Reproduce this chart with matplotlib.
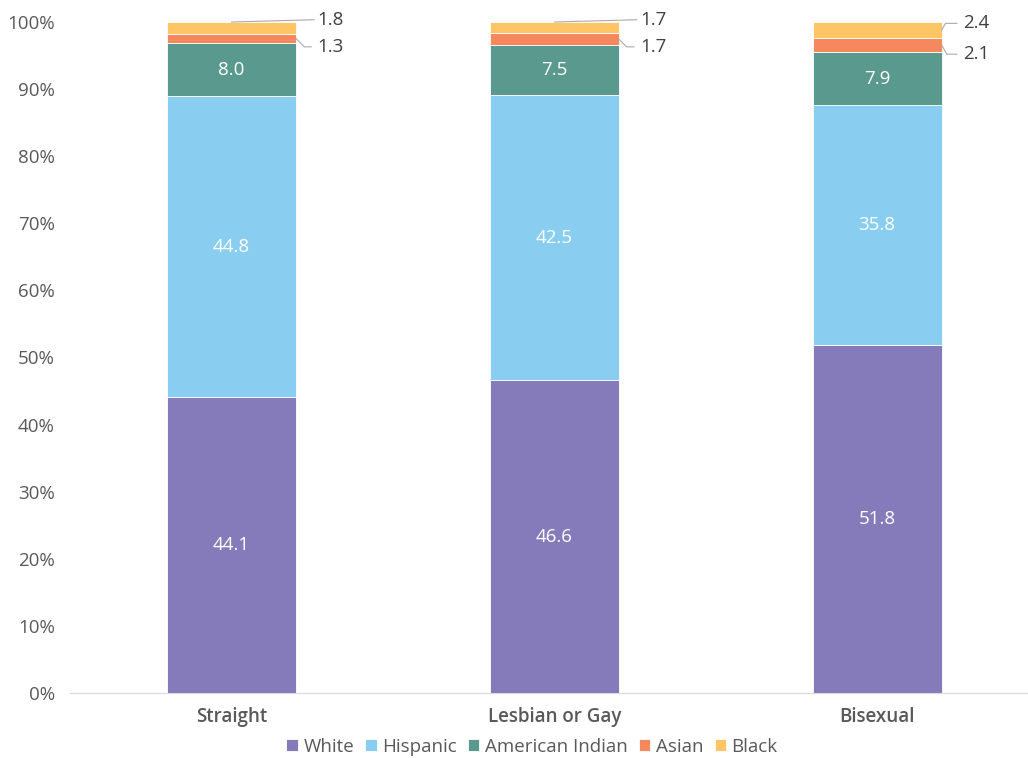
import matplotlib
matplotlib.use("Agg")
import matplotlib.pyplot as plt
import numpy as np

plt.rcParams['font.family'] = ['Open Sans', 'DejaVu Sans']

categories = ['Straight', 'Lesbian or Gay', 'Bisexual']
groups = ['White', 'Hispanic', 'American Indian', 'Asian', 'Black']
white = [44.1, 46.6, 51.8]
hispanic = [44.8, 42.5, 35.8]
american_indian = [8.0, 7.5, 7.9]
asian = [1.3, 1.7, 2.1]
black = [1.8, 1.7, 2.4]
colors = ['#857bba', '#89cef0', '#5a9a8e', '#f5885c', '#fdc566']

series = [white, hispanic, american_indian, asian, black]

fig = plt.figure(figsize=(10.28, 7.58), dpi=100)
ax = fig.add_axes([70 / 1028, 65 / 758, 968.5 / 1028, 671 / 758])

x = np.arange(len(categories))
width = 0.4
bottom = np.zeros(len(categories))
for name, vals, c in zip(groups, series, colors):
    vals = np.array(vals)
    ax.bar(x, vals, width, bottom=bottom, color=c, label=name,
           edgecolor='white', linewidth=0.6)
    # big segments get their value written in the middle
    if name in ('White', 'Hispanic', 'American Indian'):
        for xi, b, v in zip(x, bottom, vals):
            ax.text(xi, b + v / 2, f'{v:.1f}', ha='center', va='center',
                    color='white', fontsize=13.5, fontweight='medium')
    bottom += vals

# small segments labelled to the right with leader lines
line_kw = dict(arrowstyle='-', color='#aaaaaa', lw=0.8)
lab_kw = dict(va='center', ha='left', fontsize=13.5, color='#404040',
              fontweight='medium')
for i in range(len(categories)):
    asian_mid = white[i] + hispanic[i] + american_indian[i] + asian[i] / 2
    black_mid = 100 - black[i] / 2
    tx = i + 0.265
    if i < 2:
        ax.annotate(f'{black[i]:.1f}', xy=(i, 100), xytext=(tx, 100.35),
                    arrowprops=dict(line_kw, shrinkA=0, shrinkB=0,
                                    relpos=(0, 0.5)), **lab_kw)
        ax.annotate(f'{asian[i]:.1f}', xy=(i + width / 2, asian_mid),
                    xytext=(tx, 96.3),
                    arrowprops=dict(line_kw, shrinkA=2, shrinkB=0,
                                    relpos=(0, 0.5),
                                    connectionstyle='angle,angleA=0,angleB=-45,rad=0'),
                    **lab_kw)
    else:
        ax.annotate(f'{black[i]:.1f}', xy=(i + width / 2, black_mid),
                    xytext=(tx, 99.8),
                    arrowprops=dict(line_kw, shrinkA=2, shrinkB=0,
                                    relpos=(0, 0.5),
                                    connectionstyle='angle,angleA=0,angleB=60,rad=0'),
                    **lab_kw)
        ax.annotate(f'{asian[i]:.1f}', xy=(i + width / 2, asian_mid),
                    xytext=(tx, 95.2),
                    arrowprops=dict(line_kw, shrinkA=2, shrinkB=0,
                                    relpos=(0, 0.5),
                                    connectionstyle='angle,angleA=0,angleB=-60,rad=0'),
                    **lab_kw)

ax.set_xlim(-0.5, 2.5)
ax.set_ylim(0, 100)
ax.set_yticks(np.arange(0, 101, 10))
ax.set_yticklabels([f'{t}%' for t in range(0, 101, 10)])
ax.set_xticks(x)
ax.set_xticklabels(categories, fontweight='semibold')
ax.tick_params(axis='both', length=0, labelsize=13.5, colors='#595959')
ax.tick_params(axis='y', pad=11)
ax.tick_params(axis='x', pad=10)
for s in ['top', 'right', 'left']:
    ax.spines[s].set_visible(False)
ax.spines['bottom'].set_color('#d9d9d9')

fig.legend(loc='center', bbox_to_anchor=(532 / 1028, 1 - 747 / 758), ncol=5,
           frameon=False, handlelength=0.6, handleheight=0.6,
           handletextpad=0.3, columnspacing=0.6, labelcolor='#595959',
           prop={'weight': 'medium', 'size': 13.5})

fig.savefig('out.png', dpi=100)
